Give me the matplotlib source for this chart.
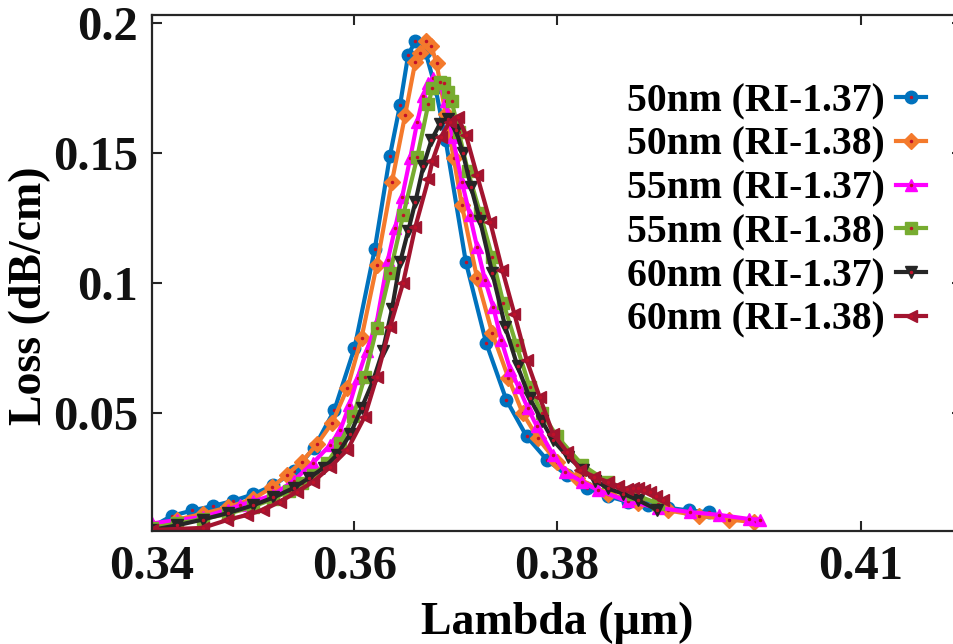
import matplotlib
matplotlib.use("Agg")
from matplotlib import pyplot as plt
from matplotlib.legend_handler import HandlerTuple

plt.rcParams['font.family'] = ['Liberation Serif', 'DejaVu Serif']
plt.rcParams['font.weight'] = 'bold'
plt.rcParams['mathtext.default'] = 'regular'

# ---- data ----
labels = ['50nm (RI-1.37)', '50nm (RI-1.38)', '55nm (RI-1.37)',
          '55nm (RI-1.38)', '60nm (RI-1.37)', '60nm (RI-1.38)']

lam_50_137 = [0.340, 0.342, 0.344, 0.346, 0.348, 0.350, 0.352, 0.354, 0.356, 0.358,
              0.360, 0.362, 0.3635, 0.3645, 0.3653, 0.366, 0.367, 0.368, 0.369, 0.371,
              0.373, 0.375, 0.377, 0.379, 0.381, 0.383, 0.385, 0.387, 0.389, 0.391,
              0.393, 0.395]
loss_50_137 = [0.0062, 0.0105, 0.0125, 0.0142, 0.0162, 0.0187, 0.0222, 0.0275, 0.0365, 0.0510,
               0.0750, 0.1130, 0.1490, 0.1685, 0.1877, 0.1930, 0.1890, 0.1750, 0.1550, 0.1080,
               0.0770, 0.0550, 0.0410, 0.0320, 0.0260, 0.0212, 0.0180, 0.0158, 0.0145, 0.0135,
               0.0125, 0.0118]

lam_50_138 = [0.340, 0.3425, 0.345, 0.3475, 0.350, 0.3519, 0.3533, 0.3548, 0.3563, 0.3578,
              0.3593, 0.3607, 0.3622, 0.3637, 0.3650, 0.3660, 0.3665, 0.3671, 0.3676, 0.3681,
              0.3690, 0.3698, 0.3706, 0.3721, 0.3736, 0.3752, 0.3766, 0.3781, 0.3800, 0.3820,
              0.3850, 0.3880, 0.3910, 0.3940, 0.3970, 0.3995]
loss_50_138 = [0.0060, 0.0090, 0.0112, 0.0137, 0.0170, 0.0215, 0.0262, 0.0312, 0.0380, 0.0462,
               0.0596, 0.0790, 0.1070, 0.1390, 0.1646, 0.1850, 0.1885, 0.1930, 0.1910, 0.1846,
               0.1650, 0.1480, 0.1300, 0.1020, 0.0808, 0.0635, 0.0500, 0.0404, 0.0310, 0.0250,
               0.0190, 0.0155, 0.0125, 0.0105, 0.0090, 0.0080]

lam_55_137 = [0.340, 0.3425, 0.345, 0.3475, 0.3487, 0.350, 0.352, 0.354, 0.3559, 0.3576,
              0.3586, 0.3595, 0.3603, 0.3612, 0.3622, 0.3633, 0.3640, 0.3647, 0.3655, 0.3662,
              0.3668, 0.3673, 0.3678, 0.3684, 0.3690, 0.3697, 0.3706, 0.3714, 0.3721, 0.3729,
              0.3737, 0.3745, 0.3754, 0.3762, 0.3771, 0.3780, 0.3796, 0.3808, 0.3825, 0.3840,
              0.3870, 0.3900, 0.3931, 0.3960, 0.3990, 0.4000]
loss_55_137 = [0.0075, 0.0088, 0.0100, 0.0128, 0.0146, 0.0160, 0.0185, 0.0240, 0.0308, 0.0377,
               0.0435, 0.0530, 0.0635, 0.0740, 0.0850, 0.1090, 0.1210, 0.1330, 0.1480, 0.1620,
               0.1720, 0.1770, 0.1790, 0.1770, 0.1700, 0.1560, 0.1390, 0.1260, 0.1140, 0.1010,
               0.0908, 0.0780, 0.0665, 0.0600, 0.0520, 0.0450, 0.0340, 0.0273, 0.0235, 0.0204,
               0.0160, 0.0135, 0.0119, 0.0108, 0.0092, 0.0090]

lam_55_138 = [0.340, 0.3425, 0.345, 0.3475, 0.350, 0.352, 0.3535, 0.3548, 0.3559, 0.3573,
              0.3586, 0.3599, 0.3610, 0.3622, 0.3635, 0.3648, 0.3662, 0.3673, 0.3677, 0.3684,
              0.3688, 0.3692, 0.3696, 0.3703, 0.3712, 0.3724, 0.3736, 0.3747, 0.3760, 0.3773,
              0.3785, 0.3800, 0.3825, 0.3850, 0.3875, 0.3900]
loss_55_138 = [0.0058, 0.0075, 0.0092, 0.0112, 0.0140, 0.0170, 0.0200, 0.0231, 0.0262, 0.0308,
               0.0385, 0.0488, 0.0638, 0.0827, 0.1038, 0.1260, 0.1485, 0.1690, 0.1750, 0.1773,
               0.1770, 0.1735, 0.1700, 0.1580, 0.1430, 0.1270, 0.1100, 0.0923, 0.0760, 0.0600,
               0.0500, 0.0410, 0.0300, 0.0235, 0.0190, 0.0150]

lam_60_137 = [0.340, 0.3425, 0.345, 0.3475, 0.350, 0.352, 0.354, 0.3555, 0.357, 0.3583,
              0.3596, 0.3607, 0.3618, 0.3628, 0.3637, 0.3645, 0.3653, 0.3660, 0.3668, 0.3676,
              0.3684, 0.3692, 0.3700, 0.3707, 0.3715, 0.3724, 0.3736, 0.3749, 0.3761, 0.3773,
              0.3785, 0.3796, 0.3811, 0.3826, 0.3838, 0.3850, 0.3865, 0.3880, 0.3899]
loss_60_137 = [0.0050, 0.0068, 0.0090, 0.0115, 0.0145, 0.0175, 0.0212, 0.0250, 0.0290, 0.0340,
               0.0420, 0.0520, 0.0620, 0.0740, 0.0900, 0.1080, 0.1200, 0.1310, 0.1450, 0.1550,
               0.1610, 0.1630, 0.1590, 0.1500, 0.1370, 0.1240, 0.1040, 0.0830, 0.0680, 0.0558,
               0.0470, 0.0396, 0.0330, 0.0280, 0.0240, 0.0210, 0.0190, 0.0165, 0.0127]

lam_60_138 = [0.340, 0.345, 0.3474, 0.3494, 0.3510, 0.3526, 0.3543, 0.3559, 0.3576, 0.3593,
              0.3610, 0.3622, 0.3635, 0.3648, 0.3660, 0.3673, 0.3677, 0.3685, 0.3694, 0.3702,
              0.3710, 0.3721, 0.3734, 0.3746, 0.3758, 0.3770, 0.3783, 0.3796, 0.3810, 0.3823,
              0.3837, 0.3850, 0.3860, 0.3869, 0.3875, 0.3880, 0.3886, 0.3892, 0.3898, 0.3905]
loss_60_138 = [0.0050, 0.0058, 0.0088, 0.0108, 0.0127, 0.0158, 0.0196, 0.0235, 0.0292, 0.0358,
               0.0485, 0.0638, 0.0830, 0.1000, 0.1215, 0.1400, 0.1470, 0.1560, 0.1620, 0.1640,
               0.1570, 0.1415, 0.1235, 0.1050, 0.0880, 0.0704, 0.0560, 0.0420, 0.0350, 0.0280,
               0.0255, 0.0235, 0.0220, 0.0208, 0.0210, 0.0212, 0.0205, 0.0195, 0.0180, 0.0165]

xticks = [0.34, 0.36, 0.38, 0.41]
xticklabels = ['0.34', '0.36', '0.38', '0.41']
yticks = [0.05, 0.1, 0.15, 0.2]
yticklabels = ['0.05', '0.1', '0.15', '0.2']

series = [(lam_50_137, loss_50_137), (lam_50_138, loss_50_138), (lam_55_137, loss_55_137),
          (lam_55_138, loss_55_138), (lam_60_137, loss_60_137), (lam_60_138, loss_60_138)]
colors = ['#0072BD', '#F47A2C', '#FF00FF', '#77AC30', '#262626', '#A2142F']
markers = ['o', 'D', '^', 's', 'v', '<']
msizes = [9, 8, 9, 8, 9, 9]

fig = plt.figure(figsize=(9.54, 6.44), dpi=100)
ax = fig.add_axes([152/954, 1-531/644, 810/954, 516/644])

handles = []
for (x, y), c, m, s, lab in zip(series, colors, markers, msizes, labels):
    ln, = ax.plot(x, y, color=c, lw=3.0, marker=m, ms=s, mfc=c, mec=c)
    dot, = ax.plot(x, y, ls='none', marker='.', ms=3, color='#C0102A')
    handles.append((ln, dot))

ax.set_xlim(0.34, 0.42)
ax.set_ylim(0.0046, 0.2031)
ax.set_xticks(xticks)
ax.set_xticklabels(xticklabels)
ax.set_yticks(yticks)
ax.set_yticklabels(yticklabels)

ax.tick_params(direction='in', length=7, width=1.5, colors='#262626',
               labelcolor='#111111', labelsize=35, top=True, right=True, pad=10)
for sp in ax.spines.values():
    sp.set_linewidth(1.6)
    sp.set_color('#262626')

ax.set_xlabel('Lambda (µm)', fontsize=33, fontweight='bold', labelpad=9)
ax.set_ylabel('Loss (dB/cm)', fontsize=33, fontweight='bold')
ax.yaxis.set_label_coords(-0.124, 0.455)

leg = ax.legend(handles, labels, handler_map={tuple: HandlerTuple(ndivide=1)},
                loc='upper right', bbox_to_anchor=(926/954, 1-83/644),
                bbox_transform=fig.transFigure, frameon=False, markerfirst=False,
                handlelength=0.75, handletextpad=0.3, labelspacing=0.17,
                borderpad=0, borderaxespad=0,
                prop={'family': 'Liberation Serif', 'weight': 'bold', 'size': 28.5})

fig.savefig('out.png', dpi=100)
